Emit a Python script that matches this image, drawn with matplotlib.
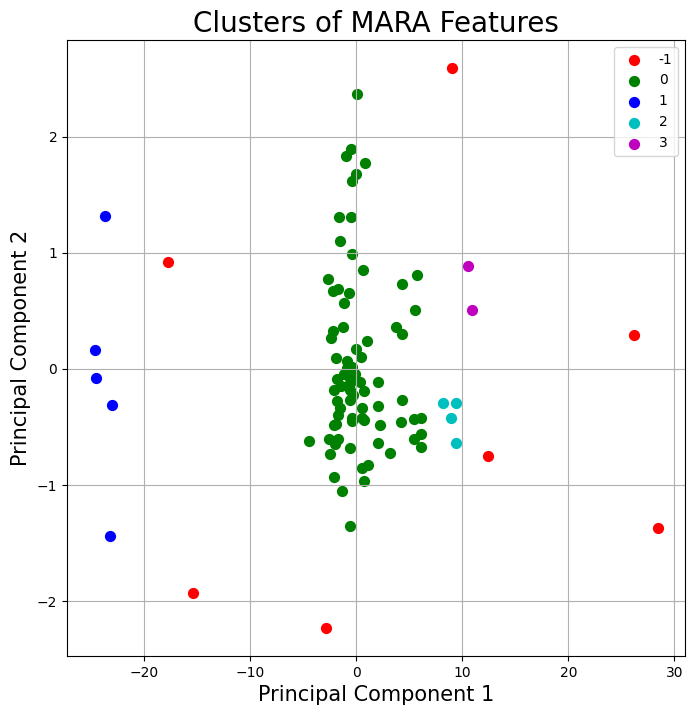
import matplotlib
matplotlib.use('Agg')
import matplotlib.pyplot as plt

# valores (componente 1, componente 2) por cluster
etiquetas = ['-1', '0', '1', '2', '3']
colores = ['r', 'g', 'b', 'c', 'm']

pc1_ruido = [9.06, -17.8, 26.2, 12.4, 28.5, -15.4, -2.9]
pc2_ruido = [2.59, 0.92, 0.29, -0.75, -1.37, -1.93, -2.23]

pc1_c0 = [0.1, -0.54, -0.94, 0.78, -0.07, -0.38, -1.67, -0.47, -1.57, -0.38,
          0.6, -2.7, 5.75, 4.27, -2.2, -1.76, -0.72, -1.2, 5.57, -1.3,
          -2.2, -2.36, 3.77, 4.3, 0.97, -0.07, 0.4, -1.95, -0.9, -0.88,
          -0.4, -0.1, -1.2, 2.07, -1.8, -0.57, 0.3, -1.45, -2.1, -0.57,
          0.7, -1.8, 2.07, 4.27, 0.54, -1.5, -0.57, -1.76, -0.4, 0.54,
          -2.1, -1.9, -0.4, 0.7, 2.2, 4.18, 5.47, 6.07, -4.5, -2.55,
          -1.76, -1.98, -2.5, -0.63, 2.0, 3.2, 5.47, 6.07, 6.07, 0.57,
          1.07, -2.14, 0.69, -1.4, -0.57, -0.6, -0.3]
pc2_c0 = [2.37, 1.89, 1.83, 1.77, 1.68, 1.62, 1.31, 1.31, 1.10, 0.99,
          0.85, 0.77, 0.81, 0.73, 0.67, 0.69, 0.65, 0.57, 0.51, 0.36,
          0.33, 0.27, 0.36, 0.30, 0.24, 0.17, 0.10, 0.09, 0.07, 0.01,
          0.02, -0.04, -0.04, -0.11, -0.09, -0.08, -0.11, -0.15, -0.18, -0.18,
          -0.19, -0.28, -0.32, -0.27, -0.34, -0.34, -0.27, -0.40, -0.42, -0.42,
          -0.48, -0.47, -0.45, -0.44, -0.48, -0.46, -0.43, -0.42, -0.62, -0.60,
          -0.60, -0.65, -0.73, -0.68, -0.64, -0.72, -0.60, -0.56, -0.67, -0.85,
          -0.83, -0.93, -0.96, -1.05, -1.35, -0.12, -0.22]

pc1_c1 = [-23.7, -24.7, -24.6, -23.1, -23.2]
pc2_c1 = [1.32, 0.16, -0.08, -0.31, -1.44]

pc1_c2 = [8.2, 9.4, 8.9, 9.4]
pc2_c2 = [-0.29, -0.29, -0.42, -0.64]

pc1_c3 = [10.5, 10.9]
pc2_c3 = [0.89, 0.51]

datos_x = [pc1_ruido, pc1_c0, pc1_c1, pc1_c2, pc1_c3]
datos_y = [pc2_ruido, pc2_c0, pc2_c1, pc2_c2, pc2_c3]

fig = plt.figure(figsize=(6.95, 7.15), dpi=100)
ax = fig.add_axes([0.0964, 0.0825, 0.8892, 0.8615])
for xs, ys, c, et in zip(datos_x, datos_y, colores, etiquetas):
    ax.scatter(xs, ys, c=c, s=50, label=et)

ax.set_xlim(-27.3, 31.0)
ax.set_ylim(-2.47, 2.83)
ax.set_title('Clusters of MARA Features', fontsize=20)
ax.set_xlabel('Principal Component 1', fontsize=15)
ax.set_ylabel('Principal Component 2', fontsize=15)
ax.legend()
ax.grid()
fig.savefig('out.png')
